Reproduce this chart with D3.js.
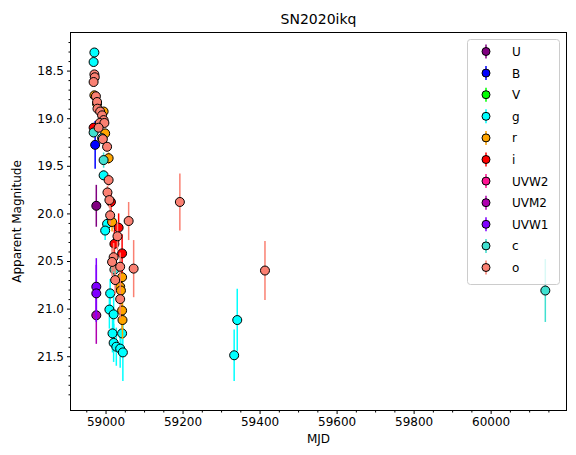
<!DOCTYPE html>
<html>
<head>
<meta charset="utf-8">
<script src="https://cdn.jsdelivr.net/npm/d3@7"></script>
<style>
  body { margin: 0; background: #fff; }
  text { font-family: "DejaVu Sans", sans-serif; }
</style>
</head>
<body>
<svg id="chart" width="576" height="455"></svg>
<script>
const bands = ["U", "B", "V", "g", "r", "i", "UVW2", "UVM2", "UVW1", "c", "o"]
const bandColors = ["#800080", "#0000ff", "#00ff00", "#00ffff", "#ffa500", "#ff0000",
    "#ff1493", "#b000b0", "#8000ff", "#40e0d0", "#fa8072"]

// [mjd, mag, err]
const U = [[58976, 19.92, 0.22]]
const B = [[58973, 19.28, 0.25]]
const V = []
const g = [[58971, 18.31, 0.03], [58969, 18.41, 0.03], [58995, 19.60, 0.05],
    [59004, 20.11, 0.08], [58999, 20.18, 0.1], [59012, 20.84, 0.15],
    [59010, 21.01, 0.2], [59021, 21.06, 0.2], [59018, 21.26, 0.2],
    [59043, 21.26, 0.25], [59021, 21.36, 0.2], [59028, 21.40, 0.2],
    [59038, 21.42, 0.2], [59045, 21.46, 0.3], [59342, 21.12, 0.33], [59334, 21.49, 0.27]]
const r = [[58971, 18.76, 0.03], [58978, 18.85, 0.03], [58995, 18.93, 0.04],
    [58999, 19.16, 0.05], [59008, 19.42, 0.06], [59017, 20.09, 0.1],
    [59043, 20.67, 0.15], [59038, 20.77, 0.15], [59040, 20.81, 0.15],
    [59043, 21.02, 0.2], [59044, 21.12, 0.2]]
const i = [[58969, 19.10, 0.05], [59014, 19.88, 0.1], [59034, 20.15, 0.15],
    [59023, 20.32, 0.15], [59043, 20.42, 0.2]]
const UVW2 = []
const UVM2 = [[58976, 21.07, 0.3]]
const UVW1 = [[58976, 20.77, 0.3], [58976, 20.84, 0.3]]
const c = [[58969, 19.15, 0.05], [58991, 19.21, 0.05], [58995, 19.44, 0.08],
    [59023, 20.59, 0.15], [60142, 20.81, 0.33]]
const o = [[58971, 18.54, 0.03], [58972, 18.57, 0.03], [58969, 18.62, 0.03],
    [58975, 18.77, 0.03], [58978, 18.83, 0.03], [58979, 18.90, 0.04],
    [58986, 18.93, 0.04], [58991, 18.97, 0.04], [58995, 19.02, 0.04],
    [58985, 19.05, 0.04], [58997, 19.05, 0.04], [58982, 19.10, 0.04],
    [58993, 19.22, 0.05], [59004, 19.30, 0.05], [59008, 19.65, 0.06],
    [59005, 19.78, 0.07], [59010, 19.86, 0.08], [59012, 20.02, 0.1],
    [59060, 20.08, 0.2], [59031, 20.24, 0.15], [59021, 20.46, 0.15],
    [59017, 20.51, 0.15], [59038, 20.56, 0.15], [59073, 20.58, 0.3],
    [59025, 20.70, 0.15], [59038, 20.90, 0.2], [59193, 19.88, 0.3], [59414, 20.60, 0.31]]
const bandData = [U, B, V, g, r, i, UVW2, UVM2, UVW1, c, o]

const xTicks = [59000, 59200, 59400, 59600, 59800, 60000]
const yTicks = [18.5, 19.0, 19.5, 20.0, 20.5, 21.0, 21.5]

const svg = d3.select("#chart")
const mLeft = 70.5, mRight = 566.5, mTop = 32.5, mBottom = 410.5

const x = d3.scaleLinear().domain([58909, 60197]).range([mLeft, mRight])
const y = d3.scaleLinear().domain([18.1, 22.07]).range([mTop, mBottom])

const plot = svg.append("g")
bandData.forEach((pts, k) => {
    const color = bandColors[k]
    const grp = plot.append("g")
    grp.selectAll("line").data(pts).join("line")
        .attr("x1", d => x(d[0])).attr("x2", d => x(d[0]))
        .attr("y1", d => y(d[1] - d[2])).attr("y2", d => y(d[1] + d[2]))
        .attr("stroke", color).attr("stroke-width", 1.5)
    grp.selectAll("circle").data(pts).join("circle")
        .attr("cx", d => x(d[0])).attr("cy", d => y(d[1])).attr("r", 4.5)
        .attr("fill", color).attr("stroke", "#000").attr("stroke-width", 1)
})

// axes
svg.append("g").attr("transform", "translate(0," + mBottom + ")")
    .call(d3.axisBottom(x).tickValues(xTicks).tickFormat(d3.format("d")).tickSize(3.5))
svg.append("g").attr("transform", "translate(0," + mBottom + ")")
    .call(d3.axisBottom(x).tickValues(d3.range(58950, 60197, 50).filter(v => v % 200 != 0)).tickFormat("").tickSize(2))
svg.append("g").attr("transform", "translate(" + mLeft + ",0)")
    .call(d3.axisLeft(y).tickValues(yTicks).tickFormat(d3.format(".1f")).tickSize(3.5))
svg.append("g").attr("transform", "translate(" + mLeft + ",0)")
    .call(d3.axisLeft(y).tickValues(d3.range(18.2, 22.05, 0.1).filter(v => Math.abs(v * 2 - Math.round(v * 2)) > 0.01)).tickFormat("").tickSize(2))
svg.selectAll(".domain").remove()
svg.selectAll(".tick text").attr("font-size", 12).attr("fill", "#000")
svg.selectAll(".tick line").attr("stroke", "#000")

svg.append("rect").attr("x", mLeft).attr("y", mTop)
    .attr("width", mRight - mLeft).attr("height", mBottom - mTop)
    .attr("fill", "none").attr("stroke", "#000").attr("stroke-width", 1)

svg.append("text").attr("x", (mLeft + mRight) / 2).attr("y", 24)
    .attr("text-anchor", "middle").attr("font-size", 14).text("SN2020ikq")
svg.append("text").attr("x", (mLeft + mRight) / 2).attr("y", 443)
    .attr("text-anchor", "middle").attr("font-size", 12).text("MJD")
svg.append("text").attr("transform", "translate(21," + (mTop + mBottom) / 2 + ") rotate(-90)")
    .attr("text-anchor", "middle").attr("font-size", 12).text("Apparent Magnitude")

// legend
const legend = svg.append("g")
legend.append("rect").attr("x", 467.5).attr("y", 39.5).attr("width", 92).attr("height", 245)
    .attr("rx", 3).attr("fill", "#fff").attr("fill-opacity", 0.8).attr("stroke", "#ccc")
bands.forEach((b, k) => {
    const ly = 51.5 + k * 21.6
    legend.append("line").attr("x1", 486).attr("x2", 486).attr("y1", ly - 7).attr("y2", ly + 7)
        .attr("stroke", bandColors[k]).attr("stroke-width", 1.5)
    legend.append("circle").attr("cx", 486).attr("cy", ly).attr("r", 4)
        .attr("fill", bandColors[k]).attr("stroke", "#000")
    legend.append("text").attr("x", 512).attr("y", ly + 4.5).attr("font-size", 12).text(b)
})
</script>
</body>
</html>
